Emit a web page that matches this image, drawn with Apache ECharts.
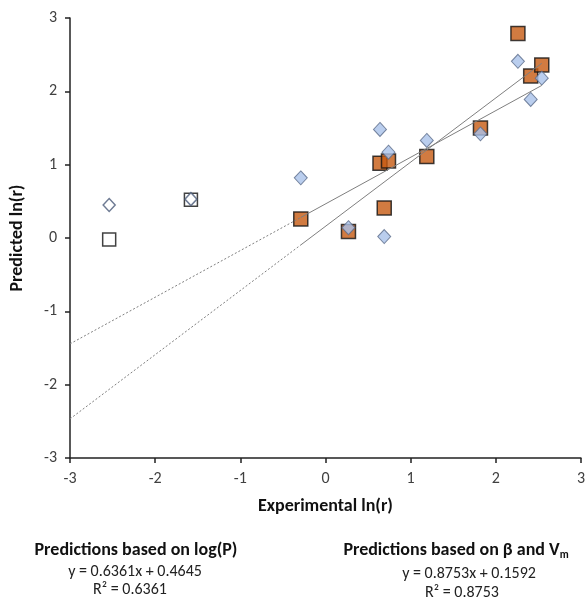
<!DOCTYPE html>
<html>
<head>
<meta charset="utf-8">
<script src="https://cdn.jsdelivr.net/npm/echarts@6/dist/echarts.min.js"></script>
<style>
html,body{margin:0;padding:0;background:#fff;}
#c{width:588px;height:601px;}
</style>
</head>
<body>
<div id="c"></div>
<script>
// Experimental ln(r) values (x) and predictions
const expX = [-0.29, 0.27, 0.64, 0.74, 0.69, 1.19, 1.82, 2.26, 2.41, 2.54];
const predBetaVm = [0.26, 0.09, 1.02, 1.05, 0.41, 1.11, 1.50, 2.79, 2.21, 2.36];   // squares
const predLogP = [0.82, 0.14, 1.48, 1.17, 0.02, 1.33, 1.42, 2.41, 1.89, 2.18];     // diamonds
// excluded (open) points
const outX = [-2.54, -1.58];
const outBetaVm = [-0.02, 0.52];
const outLogP = [0.45, 0.53];
// trendline coefficients (from printed equations)
const fitLogP = { slope: 0.6361, intercept: 0.4645, r2: 0.6361 };
const fitBetaVm = { slope: 0.8753, intercept: 0.1592, r2: 0.8753 };
const fitRange = [-0.29, 2.54];
const axisMin = -3;

function pts(xs, ys) { return xs.map((x, i) => [x, ys[i]]); }
function line(fit, x0, x1) { return [[x0, fit.slope * x0 + fit.intercept], [x1, fit.slope * x1 + fit.intercept]]; }

const FONT = 'Carlito, Lato, "Open Sans", sans-serif';
const chart = echarts.init(document.getElementById('c'));
const lineGray = '#7f7f7f';

function txt(x, y, text, font, fill) {
  return { type: 'text', x: x, y: y, style: { text: text, font: font, fill: fill, align: 'center', textAlign: 'center', verticalAlign: 'middle', textVerticalAlign: 'middle' } };
}

chart.setOption({
  animation: false,
  backgroundColor: '#fff',
  grid: { left: 70, right: 5, top: 18, bottom: 143 },
  xAxis: {
    type: 'value', min: -3, max: 3, interval: 1,
    name: 'Experimental ln(r)', nameLocation: 'middle', nameGap: 39,
    nameTextStyle: { fontFamily: FONT, fontWeight: 'bold', fontSize: 18, color: '#111' },
    axisLine: { onZero: false, lineStyle: { color: '#222', width: 1.5 } },
    axisTick: { inside: false, length: 5, lineStyle: { color: '#222', width: 1.5 } },
    axisLabel: { fontFamily: FONT, fontSize: 16, color: '#404040', margin: 13 },
    splitLine: { show: false }
  },
  yAxis: {
    type: 'value', min: -3, max: 3, interval: 1,
    name: 'Predicted ln(r)', nameLocation: 'middle', nameGap: 44, nameRotate: 90,
    nameTextStyle: { fontFamily: FONT, fontWeight: 'bold', fontSize: 18, color: '#111' },
    axisLine: { show: true, onZero: false, lineStyle: { color: '#222', width: 1.5 } },
    axisTick: { show: true, inside: false, length: 5, lineStyle: { color: '#222', width: 1.5 } },
    axisLabel: { fontFamily: FONT, fontSize: 16, color: '#404040', margin: 13 },
    splitLine: { show: false }
  },
  series: [
    {
      type: 'scatter', name: 'excluded beta Vm', data: pts(outX, outBetaVm),
      symbol: 'rect', symbolSize: 13, z: 2,
      itemStyle: { color: '#fff', borderColor: '#111', borderWidth: 1.5 }
    },
    {
      type: 'scatter', name: 'excluded logP', data: pts(outX, outLogP),
      symbol: 'diamond', symbolSize: [12, 13], z: 3,
      itemStyle: { color: '#fff', borderColor: '#4a5a78', borderWidth: 1.5 }
    },
    {
      type: 'scatter', name: 'beta Vm', data: pts(expX, predBetaVm),
      symbol: 'rect', symbolSize: 14, z: 2,
      itemStyle: { color: '#C55A11', borderColor: '#111', borderWidth: 1.5 }
    },
    {
      type: 'scatter', name: 'logP', data: pts(expX, predLogP),
      symbol: 'diamond', symbolSize: [13, 14], z: 3,
      itemStyle: { color: '#A9C2EA', borderColor: '#5a6a88', borderWidth: 1 }
    },
    {
      type: 'line', data: line(fitLogP, fitRange[0], fitRange[1]), symbol: 'none', z: 4,
      lineStyle: { color: lineGray, width: 1 }
    },
    {
      type: 'line', data: line(fitBetaVm, fitRange[0], fitRange[1]), symbol: 'none', z: 4,
      lineStyle: { color: lineGray, width: 1 }
    },
    {
      type: 'line', data: line(fitLogP, axisMin, fitRange[0]), symbol: 'none', z: 4,
      lineStyle: { color: lineGray, width: 1, type: [2, 2] }
    },
    {
      type: 'line', data: line(fitBetaVm, axisMin, fitRange[0]), symbol: 'none', z: 4,
      lineStyle: { color: lineGray, width: 1, type: [2, 2] }
    }
  ],
  graphic: [
    txt(136, 550, 'Predictions based on log(P)', 'bold 18px ' + FONT, '#111'),
    txt(135, 572, 'y = 0.6361x + 0.4645', '16px ' + FONT, '#222'),
    txt(130, 590, 'R² = 0.6361', '16px ' + FONT, '#222'),
    { type: 'text', x: 456, y: 550, style: {
        text: '{t|Predictions based on β and V}{s|m}',
        rich: { t: { font: 'bold 18px ' + FONT, fill: '#111' }, s: { font: 'bold 11px ' + FONT, fill: '#111', padding: [10, 0, 0, 0] } },
        align: 'center', textAlign: 'center', verticalAlign: 'middle', textVerticalAlign: 'middle' } },
    txt(469, 574, 'y = 0.8753x + 0.1592', '16px ' + FONT, '#222'),
    txt(462, 593, 'R² = 0.8753', '16px ' + FONT, '#222')
  ]
});
</script>
</body>
</html>
